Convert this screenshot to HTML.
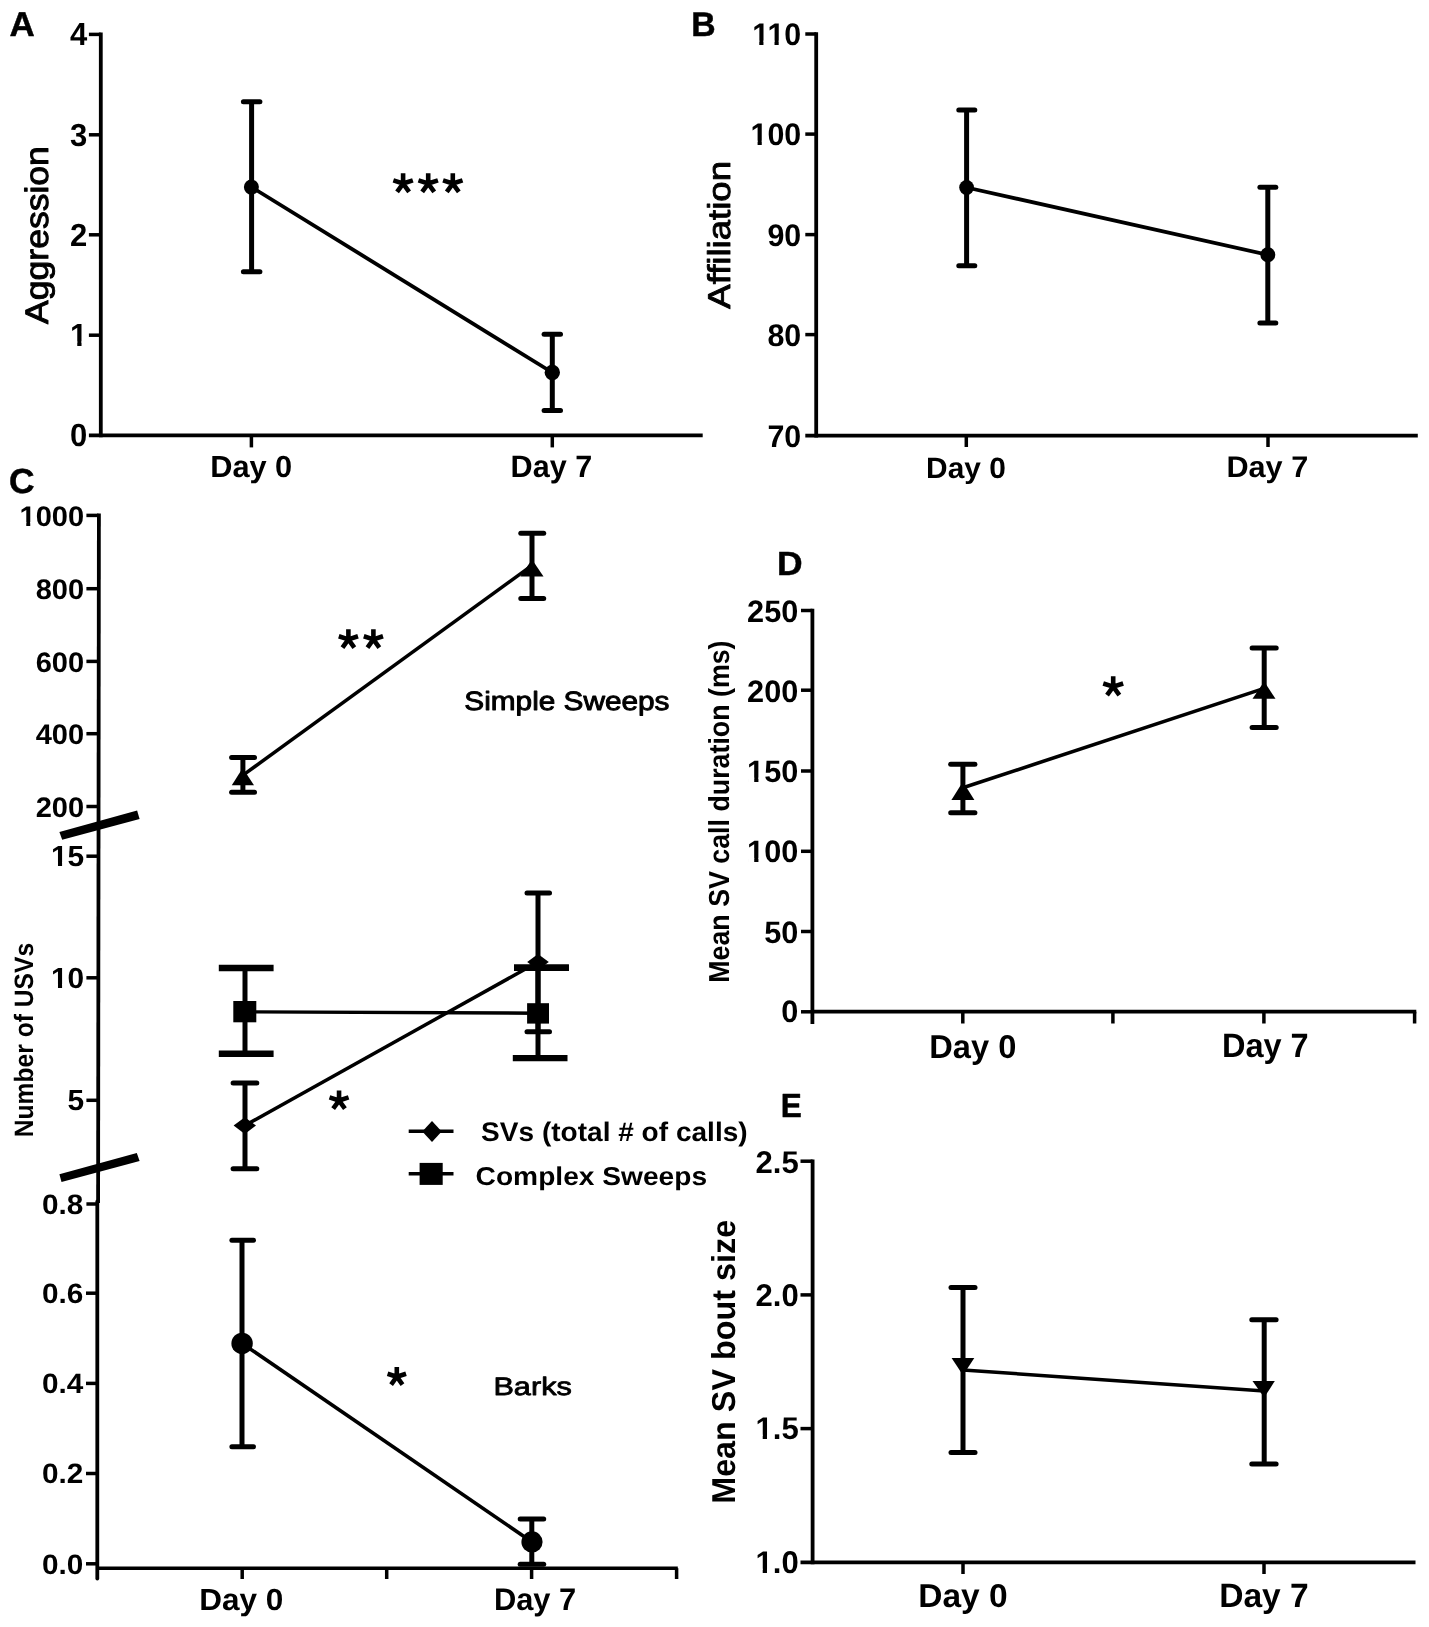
<!DOCTYPE html>
<html><head><meta charset="utf-8"><title>Figure</title>
<style>
html,body{margin:0;padding:0;background:#fff;}
svg{display:block;filter:grayscale(1);}
text{font-family:"Liberation Sans",sans-serif;fill:#000;text-rendering:geometricPrecision;}
</style></head><body>
<svg width="1429" height="1627" viewBox="0 0 1429 1627">
<rect width="1429" height="1627" fill="#fff"/>
<line x1="100.80" y1="32.60" x2="100.80" y2="437.30" stroke="#000" stroke-width="3.8" stroke-linecap="butt"/>
<line x1="88.90" y1="34.40" x2="100.80" y2="34.40" stroke="#000" stroke-width="3.5" stroke-linecap="butt"/>
<line x1="88.90" y1="134.80" x2="100.80" y2="134.80" stroke="#000" stroke-width="3.5" stroke-linecap="butt"/>
<line x1="88.90" y1="234.80" x2="100.80" y2="234.80" stroke="#000" stroke-width="3.5" stroke-linecap="butt"/>
<line x1="88.90" y1="335.20" x2="100.80" y2="335.20" stroke="#000" stroke-width="3.5" stroke-linecap="butt"/>
<line x1="88.90" y1="435.40" x2="702.70" y2="435.40" stroke="#000" stroke-width="3.8" stroke-linecap="butt"/>
<line x1="251.40" y1="435.40" x2="251.40" y2="447.40" stroke="#000" stroke-width="3.5" stroke-linecap="butt"/>
<line x1="552.30" y1="435.40" x2="552.30" y2="447.40" stroke="#000" stroke-width="3.5" stroke-linecap="butt"/>
<line x1="251.50" y1="187.10" x2="552.30" y2="372.50" stroke="#000" stroke-width="3.8" stroke-linecap="butt"/>
<line x1="251.60" y1="101.70" x2="251.60" y2="271.80" stroke="#000" stroke-width="5.0" stroke-linecap="butt"/>
<line x1="243.40" y1="101.70" x2="259.90" y2="101.70" stroke="#000" stroke-width="5.0" stroke-linecap="round"/>
<line x1="243.40" y1="271.80" x2="259.90" y2="271.80" stroke="#000" stroke-width="5.0" stroke-linecap="round"/>
<line x1="552.30" y1="334.30" x2="552.30" y2="410.40" stroke="#000" stroke-width="5.0" stroke-linecap="butt"/>
<line x1="544.10" y1="334.30" x2="560.50" y2="334.30" stroke="#000" stroke-width="5.0" stroke-linecap="round"/>
<line x1="544.10" y1="410.40" x2="560.50" y2="410.40" stroke="#000" stroke-width="5.0" stroke-linecap="round"/>
<circle cx="251.40" cy="187.10" r="7.50" fill="#000"/>
<circle cx="552.30" cy="372.50" r="7.70" fill="#000"/>
<path d="M403.10,183.55L403.10,173.30M403.10,183.55L412.85,180.38M403.10,183.55L393.35,180.38M403.10,183.55L409.13,191.85M403.10,183.55L397.07,191.85" stroke="#000" stroke-width="4.6" stroke-linecap="butt" fill="none"/>
<path d="M428.20,183.55L428.20,173.30M428.20,183.55L437.95,180.38M428.20,183.55L418.45,180.38M428.20,183.55L434.23,191.85M428.20,183.55L422.17,191.85" stroke="#000" stroke-width="4.6" stroke-linecap="butt" fill="none"/>
<path d="M452.80,183.55L452.80,173.30M452.80,183.55L462.55,180.38M452.80,183.55L443.05,180.38M452.80,183.55L458.83,191.85M452.80,183.55L446.77,191.85" stroke="#000" stroke-width="4.6" stroke-linecap="butt" fill="none"/>
<line x1="816.20" y1="32.20" x2="816.20" y2="437.60" stroke="#000" stroke-width="3.8" stroke-linecap="butt"/>
<line x1="805.30" y1="34.00" x2="816.20" y2="34.00" stroke="#000" stroke-width="3.5" stroke-linecap="butt"/>
<line x1="805.30" y1="134.10" x2="816.20" y2="134.10" stroke="#000" stroke-width="3.5" stroke-linecap="butt"/>
<line x1="805.30" y1="234.60" x2="816.20" y2="234.60" stroke="#000" stroke-width="3.5" stroke-linecap="butt"/>
<line x1="805.30" y1="334.60" x2="816.20" y2="334.60" stroke="#000" stroke-width="3.5" stroke-linecap="butt"/>
<line x1="805.30" y1="435.70" x2="1417.80" y2="435.70" stroke="#000" stroke-width="3.8" stroke-linecap="butt"/>
<line x1="966.30" y1="435.70" x2="966.30" y2="447.00" stroke="#000" stroke-width="3.5" stroke-linecap="butt"/>
<line x1="1268.00" y1="435.70" x2="1268.00" y2="447.00" stroke="#000" stroke-width="3.5" stroke-linecap="butt"/>
<line x1="966.60" y1="187.50" x2="1267.80" y2="254.80" stroke="#000" stroke-width="3.8" stroke-linecap="butt"/>
<line x1="966.60" y1="109.90" x2="966.60" y2="265.80" stroke="#000" stroke-width="5.0" stroke-linecap="butt"/>
<line x1="958.80" y1="109.90" x2="974.80" y2="109.90" stroke="#000" stroke-width="5.0" stroke-linecap="round"/>
<line x1="958.80" y1="265.80" x2="974.80" y2="265.80" stroke="#000" stroke-width="5.0" stroke-linecap="round"/>
<line x1="1267.80" y1="187.20" x2="1267.80" y2="323.00" stroke="#000" stroke-width="5.0" stroke-linecap="butt"/>
<line x1="1259.90" y1="187.20" x2="1275.80" y2="187.20" stroke="#000" stroke-width="5.0" stroke-linecap="round"/>
<line x1="1259.90" y1="323.00" x2="1275.80" y2="323.00" stroke="#000" stroke-width="5.0" stroke-linecap="round"/>
<circle cx="966.60" cy="187.50" r="7.40" fill="#000"/>
<circle cx="1267.80" cy="254.80" r="7.50" fill="#000"/>
<line x1="98.90" y1="513.60" x2="98.10" y2="1203.00" stroke="#000" stroke-width="3.8" stroke-linecap="butt"/>
<line x1="97.30" y1="1201.50" x2="97.30" y2="1578.60" stroke="#000" stroke-width="3.8" stroke-linecap="round"/>
<line x1="86.40" y1="515.40" x2="98.50" y2="515.40" stroke="#000" stroke-width="3.5" stroke-linecap="butt"/>
<line x1="86.40" y1="588.70" x2="98.50" y2="588.70" stroke="#000" stroke-width="3.5" stroke-linecap="butt"/>
<line x1="86.40" y1="661.40" x2="98.50" y2="661.40" stroke="#000" stroke-width="3.5" stroke-linecap="butt"/>
<line x1="86.40" y1="733.70" x2="98.50" y2="733.70" stroke="#000" stroke-width="3.5" stroke-linecap="butt"/>
<line x1="86.40" y1="806.50" x2="98.50" y2="806.50" stroke="#000" stroke-width="3.5" stroke-linecap="butt"/>
<line x1="86.40" y1="856.20" x2="98.50" y2="856.20" stroke="#000" stroke-width="3.5" stroke-linecap="butt"/>
<line x1="86.40" y1="977.80" x2="98.50" y2="977.80" stroke="#000" stroke-width="3.5" stroke-linecap="butt"/>
<line x1="86.40" y1="1100.30" x2="98.50" y2="1100.30" stroke="#000" stroke-width="3.5" stroke-linecap="butt"/>
<line x1="86.40" y1="1204.00" x2="98.50" y2="1204.00" stroke="#000" stroke-width="3.5" stroke-linecap="butt"/>
<line x1="86.00" y1="1293.20" x2="97.30" y2="1293.20" stroke="#000" stroke-width="3.5" stroke-linecap="butt"/>
<line x1="86.00" y1="1383.40" x2="97.30" y2="1383.40" stroke="#000" stroke-width="3.5" stroke-linecap="butt"/>
<line x1="86.00" y1="1473.50" x2="97.30" y2="1473.50" stroke="#000" stroke-width="3.5" stroke-linecap="butt"/>
<line x1="86.00" y1="1563.80" x2="97.30" y2="1563.80" stroke="#000" stroke-width="3.5" stroke-linecap="butt"/>
<line x1="97.30" y1="1568.20" x2="677.80" y2="1568.20" stroke="#000" stroke-width="3.5" stroke-linecap="butt"/>
<line x1="242.20" y1="1568.20" x2="242.20" y2="1579.00" stroke="#000" stroke-width="3.5" stroke-linecap="butt"/>
<line x1="386.70" y1="1568.20" x2="386.70" y2="1579.00" stroke="#000" stroke-width="3.5" stroke-linecap="butt"/>
<line x1="531.60" y1="1568.20" x2="531.60" y2="1579.00" stroke="#000" stroke-width="3.5" stroke-linecap="butt"/>
<line x1="676.60" y1="1568.20" x2="676.60" y2="1579.00" stroke="#000" stroke-width="3.5" stroke-linecap="butt"/>
<polygon points="59.40,832.10 137.10,810.40 139.60,819.10 62.20,839.80" fill="#000"/>
<polygon points="59.40,1174.30 136.80,1152.90 139.60,1161.00 61.50,1182.00" fill="#000"/>
<line x1="243.00" y1="775.20" x2="532.00" y2="565.40" stroke="#000" stroke-width="3.5" stroke-linecap="butt"/>
<line x1="242.90" y1="757.60" x2="242.90" y2="792.20" stroke="#000" stroke-width="5.0" stroke-linecap="butt"/>
<line x1="231.60" y1="757.60" x2="254.50" y2="757.60" stroke="#000" stroke-width="5.0" stroke-linecap="round"/>
<line x1="231.60" y1="792.20" x2="254.50" y2="792.20" stroke="#000" stroke-width="5.0" stroke-linecap="round"/>
<line x1="532.00" y1="533.30" x2="532.00" y2="598.60" stroke="#000" stroke-width="5.0" stroke-linecap="butt"/>
<line x1="520.80" y1="533.30" x2="543.70" y2="533.30" stroke="#000" stroke-width="5.0" stroke-linecap="round"/>
<line x1="520.80" y1="598.60" x2="543.70" y2="598.60" stroke="#000" stroke-width="5.0" stroke-linecap="round"/>
<polygon points="242.70,768.00 254.00,785.20 231.80,785.20" fill="#000"/>
<polygon points="532.00,559.50 543.50,576.50 520.30,576.50" fill="#000"/>
<line x1="245.00" y1="1011.80" x2="538.00" y2="1013.20" stroke="#000" stroke-width="3.4" stroke-linecap="butt"/>
<line x1="245.00" y1="968.00" x2="245.00" y2="1053.80" stroke="#000" stroke-width="5.0" stroke-linecap="butt"/>
<line x1="218.80" y1="968.00" x2="273.60" y2="968.00" stroke="#000" stroke-width="6.4" stroke-linecap="butt"/>
<line x1="218.80" y1="1053.80" x2="273.60" y2="1053.80" stroke="#000" stroke-width="6.4" stroke-linecap="butt"/>
<line x1="538.00" y1="967.80" x2="538.00" y2="1058.10" stroke="#000" stroke-width="5.0" stroke-linecap="butt"/>
<line x1="514.00" y1="967.80" x2="568.90" y2="967.80" stroke="#000" stroke-width="6.4" stroke-linecap="butt"/>
<line x1="512.80" y1="1058.10" x2="567.50" y2="1058.10" stroke="#000" stroke-width="6.4" stroke-linecap="butt"/>
<rect x="233.30" y="1001.00" width="23.00" height="21.30" fill="#000"/>
<rect x="527.10" y="1003.20" width="21.90" height="20.40" fill="#000"/>
<line x1="244.80" y1="1125.60" x2="538.00" y2="962.00" stroke="#000" stroke-width="3.5" stroke-linecap="butt"/>
<line x1="245.00" y1="1082.90" x2="245.00" y2="1168.70" stroke="#000" stroke-width="5.0" stroke-linecap="butt"/>
<line x1="233.10" y1="1082.90" x2="256.80" y2="1082.90" stroke="#000" stroke-width="5.0" stroke-linecap="round"/>
<line x1="233.10" y1="1168.70" x2="256.80" y2="1168.70" stroke="#000" stroke-width="5.0" stroke-linecap="round"/>
<line x1="538.00" y1="893.10" x2="538.00" y2="1031.80" stroke="#000" stroke-width="5.0" stroke-linecap="butt"/>
<line x1="527.00" y1="893.10" x2="549.50" y2="893.10" stroke="#000" stroke-width="5.0" stroke-linecap="round"/>
<line x1="527.00" y1="1031.80" x2="549.50" y2="1031.80" stroke="#000" stroke-width="5.0" stroke-linecap="round"/>
<polygon points="244.80,1117.30 256.00,1125.60 244.80,1133.90 233.60,1125.60" fill="#000"/>
<polygon points="538.00,954.00 548.80,962.00 538.00,970.00 527.20,962.00" fill="#000"/>
<line x1="514.00" y1="967.80" x2="568.90" y2="967.80" stroke="#000" stroke-width="6.4" stroke-linecap="butt"/>
<line x1="242.10" y1="1343.40" x2="532.00" y2="1541.90" stroke="#000" stroke-width="3.6" stroke-linecap="butt"/>
<line x1="242.00" y1="1240.20" x2="242.00" y2="1446.70" stroke="#000" stroke-width="5.0" stroke-linecap="butt"/>
<line x1="231.90" y1="1240.20" x2="253.50" y2="1240.20" stroke="#000" stroke-width="5.0" stroke-linecap="round"/>
<line x1="231.90" y1="1446.70" x2="253.50" y2="1446.70" stroke="#000" stroke-width="5.0" stroke-linecap="round"/>
<line x1="531.80" y1="1519.10" x2="531.80" y2="1564.20" stroke="#000" stroke-width="5.0" stroke-linecap="butt"/>
<line x1="520.20" y1="1519.10" x2="543.70" y2="1519.10" stroke="#000" stroke-width="5.0" stroke-linecap="round"/>
<line x1="520.20" y1="1564.20" x2="543.70" y2="1564.20" stroke="#000" stroke-width="5.0" stroke-linecap="round"/>
<circle cx="242.10" cy="1343.40" r="10.70" fill="#000"/>
<circle cx="532.00" cy="1541.90" r="10.60" fill="#000"/>
<line x1="408.70" y1="1131.30" x2="453.50" y2="1131.30" stroke="#000" stroke-width="3.5" stroke-linecap="butt"/>
<polygon points="432.00,1121.10 441.70,1131.50 432.00,1141.90 422.30,1131.50" fill="#000"/>
<line x1="408.70" y1="1173.70" x2="453.50" y2="1173.70" stroke="#000" stroke-width="3.5" stroke-linecap="butt"/>
<rect x="419.60" y="1162.90" width="23.10" height="22.00" fill="#000"/>
<path d="M348.40,639.39L348.40,629.30M348.40,639.39L357.99,636.27M348.40,639.39L338.81,636.27M348.40,639.39L354.33,647.55M348.40,639.39L342.47,647.55" stroke="#000" stroke-width="4.6" stroke-linecap="butt" fill="none"/>
<path d="M373.40,639.39L373.40,629.30M373.40,639.39L382.99,636.27M373.40,639.39L363.81,636.27M373.40,639.39L379.33,647.55M373.40,639.39L367.47,647.55" stroke="#000" stroke-width="4.6" stroke-linecap="butt" fill="none"/>
<path d="M339.05,1100.53L339.05,1090.50M339.05,1100.53L348.59,1097.43M339.05,1100.53L329.51,1097.43M339.05,1100.53L344.95,1108.65M339.05,1100.53L333.15,1108.65" stroke="#000" stroke-width="4.6" stroke-linecap="butt" fill="none"/>
<path d="M396.80,1376.70L396.80,1367.00M396.80,1376.70L406.03,1373.70M396.80,1376.70L387.57,1373.70M396.80,1376.70L402.50,1384.55M396.80,1376.70L391.10,1384.55" stroke="#000" stroke-width="4.6" stroke-linecap="butt" fill="none"/>
<line x1="812.40" y1="608.70" x2="812.40" y2="1023.90" stroke="#000" stroke-width="3.8" stroke-linecap="butt"/>
<line x1="801.00" y1="610.50" x2="812.40" y2="610.50" stroke="#000" stroke-width="3.5" stroke-linecap="butt"/>
<line x1="801.00" y1="690.20" x2="812.40" y2="690.20" stroke="#000" stroke-width="3.5" stroke-linecap="butt"/>
<line x1="801.00" y1="771.00" x2="812.40" y2="771.00" stroke="#000" stroke-width="3.5" stroke-linecap="butt"/>
<line x1="801.00" y1="851.30" x2="812.40" y2="851.30" stroke="#000" stroke-width="3.5" stroke-linecap="butt"/>
<line x1="801.00" y1="931.50" x2="812.40" y2="931.50" stroke="#000" stroke-width="3.5" stroke-linecap="butt"/>
<line x1="801.00" y1="1011.80" x2="812.40" y2="1011.80" stroke="#000" stroke-width="3.5" stroke-linecap="butt"/>
<line x1="812.40" y1="1011.70" x2="1416.30" y2="1011.70" stroke="#000" stroke-width="3.8" stroke-linecap="butt"/>
<line x1="962.80" y1="1011.70" x2="962.80" y2="1023.50" stroke="#000" stroke-width="3.5" stroke-linecap="butt"/>
<line x1="1112.90" y1="1011.70" x2="1112.90" y2="1023.50" stroke="#000" stroke-width="3.5" stroke-linecap="butt"/>
<line x1="1263.90" y1="1011.70" x2="1263.90" y2="1023.50" stroke="#000" stroke-width="3.5" stroke-linecap="butt"/>
<line x1="1414.60" y1="1011.70" x2="1414.60" y2="1023.50" stroke="#000" stroke-width="3.5" stroke-linecap="butt"/>
<line x1="962.90" y1="787.80" x2="1264.20" y2="688.40" stroke="#000" stroke-width="3.6" stroke-linecap="butt"/>
<line x1="962.90" y1="764.30" x2="962.90" y2="812.70" stroke="#000" stroke-width="5.0" stroke-linecap="butt"/>
<line x1="950.70" y1="764.30" x2="974.90" y2="764.30" stroke="#000" stroke-width="5.0" stroke-linecap="round"/>
<line x1="950.70" y1="812.70" x2="974.90" y2="812.70" stroke="#000" stroke-width="5.0" stroke-linecap="round"/>
<line x1="1264.20" y1="647.90" x2="1264.20" y2="727.40" stroke="#000" stroke-width="5.0" stroke-linecap="butt"/>
<line x1="1252.10" y1="647.90" x2="1276.20" y2="647.90" stroke="#000" stroke-width="5.0" stroke-linecap="round"/>
<line x1="1252.10" y1="727.40" x2="1276.20" y2="727.40" stroke="#000" stroke-width="5.0" stroke-linecap="round"/>
<polygon points="962.90,781.80 974.40,799.90 951.40,799.90" fill="#000"/>
<polygon points="1264.20,681.50 1275.50,698.80 1252.50,698.80" fill="#000"/>
<path d="M1113.20,686.67L1113.20,676.20M1113.20,686.67L1123.16,683.44M1113.20,686.67L1103.24,683.44M1113.20,686.67L1119.36,695.15M1113.20,686.67L1107.04,695.15" stroke="#000" stroke-width="4.6" stroke-linecap="butt" fill="none"/>
<line x1="812.60" y1="1159.40" x2="812.60" y2="1564.20" stroke="#000" stroke-width="3.8" stroke-linecap="butt"/>
<line x1="800.50" y1="1161.20" x2="812.60" y2="1161.20" stroke="#000" stroke-width="3.5" stroke-linecap="butt"/>
<line x1="800.50" y1="1294.90" x2="812.60" y2="1294.90" stroke="#000" stroke-width="3.5" stroke-linecap="butt"/>
<line x1="800.50" y1="1428.60" x2="812.60" y2="1428.60" stroke="#000" stroke-width="3.5" stroke-linecap="butt"/>
<line x1="800.50" y1="1562.40" x2="1415.50" y2="1562.40" stroke="#000" stroke-width="3.8" stroke-linecap="butt"/>
<line x1="963.00" y1="1562.40" x2="963.00" y2="1574.00" stroke="#000" stroke-width="3.5" stroke-linecap="butt"/>
<line x1="1264.00" y1="1562.40" x2="1264.00" y2="1574.00" stroke="#000" stroke-width="3.5" stroke-linecap="butt"/>
<line x1="963.00" y1="1370.00" x2="1264.20" y2="1390.90" stroke="#000" stroke-width="3.5" stroke-linecap="butt"/>
<line x1="963.00" y1="1287.50" x2="963.00" y2="1452.60" stroke="#000" stroke-width="5.0" stroke-linecap="butt"/>
<line x1="951.00" y1="1287.50" x2="975.00" y2="1287.50" stroke="#000" stroke-width="5.0" stroke-linecap="round"/>
<line x1="951.00" y1="1452.60" x2="975.00" y2="1452.60" stroke="#000" stroke-width="5.0" stroke-linecap="round"/>
<line x1="1264.20" y1="1319.70" x2="1264.20" y2="1463.90" stroke="#000" stroke-width="5.0" stroke-linecap="butt"/>
<line x1="1251.80" y1="1319.70" x2="1276.10" y2="1319.70" stroke="#000" stroke-width="5.0" stroke-linecap="round"/>
<line x1="1251.80" y1="1463.90" x2="1276.10" y2="1463.90" stroke="#000" stroke-width="5.0" stroke-linecap="round"/>
<polygon points="951.60,1358.10 974.30,1358.10 963.00,1375.30" fill="#000"/>
<polygon points="1252.50,1381.10 1274.80,1381.10 1264.20,1397.50" fill="#000"/>
<text transform="matrix(0.34925,0,0,0.34453,9.477,36.250)" font-size="100" font-weight="bold" stroke="#000" stroke-width="1.441" stroke-linejoin="round">A</text>
<text transform="matrix(0,-0.35517,0.32473,0,48.443,323.878)" font-size="100" font-weight="normal" stroke="#000" stroke-width="2.945" stroke-linejoin="round">Aggression</text>
<text transform="matrix(0.30721,0,0,0.30497,210.203,477.148)" font-size="100" font-weight="bold">Day 0</text>
<text transform="matrix(0.30547,0,0,0.31011,510.614,477.043)" font-size="100" font-weight="bold">Day 7</text>
<text transform="matrix(0.33770,0,0,0.34161,691.255,36.250)" font-size="100" font-weight="bold" stroke="#000" stroke-width="1.472" stroke-linejoin="round">B</text>
<text transform="matrix(0,-0.36549,0.31565,0,730.184,308.683)" font-size="100" font-weight="normal" stroke="#000" stroke-width="2.944" stroke-linejoin="round">Affiliation</text>
<text transform="matrix(0.29903,0,0,0.29392,926.056,477.575)" font-size="100" font-weight="bold">Day 0</text>
<text transform="matrix(0.30664,0,0,0.29888,1226.407,477.473)" font-size="100" font-weight="bold">Day 7</text>
<text transform="matrix(0.35420,0,0,0.34789,8.933,493.402)" font-size="100" font-weight="bold" stroke="#000" stroke-width="1.424" stroke-linejoin="round">C</text>
<text transform="matrix(0.28053,0,0,0.26882,481.058,1141.089)" font-size="100" font-weight="bold">SVs (total # of calls)</text>
<text transform="matrix(0.28152,0,0,0.25806,475.574,1185.410)" font-size="100" font-weight="bold">Complex Sweeps</text>
<text transform="matrix(0.29750,0,0,0.26344,464.361,709.999)" font-size="100" font-weight="normal" stroke="#000" stroke-width="3.572" stroke-linejoin="round">Simple Sweeps</text>
<text transform="matrix(0.30697,0,0,0.25306,493.394,1395.097)" font-size="100" font-weight="normal" stroke="#000" stroke-width="3.229" stroke-linejoin="round">Barks</text>
<text transform="matrix(0,-0.24650,0.26531,0,32.935,1137.302)" font-size="100" font-weight="bold">Number of USVs</text>
<text transform="matrix(0.31501,0,0,0.30608,199.152,1609.925)" font-size="100" font-weight="bold">Day 0</text>
<text transform="matrix(0.30820,0,0,0.31124,493.897,1609.820)" font-size="100" font-weight="bold">Day 7</text>
<text transform="matrix(0.35447,0,0,0.33577,777.046,575.250)" font-size="100" font-weight="bold" stroke="#000" stroke-width="1.449" stroke-linejoin="round">D</text>
<text transform="matrix(0,-0.26782,0.28925,0,728.970,982.741)" font-size="100" font-weight="bold">Mean SV call duration (ms)</text>
<text transform="matrix(0.32632,0,0,0.33149,929.279,1057.504)" font-size="100" font-weight="bold">Day 0</text>
<text transform="matrix(0.32539,0,0,0.33708,1221.885,1057.390)" font-size="100" font-weight="bold">Day 7</text>
<text transform="matrix(0.31504,0,0,0.33285,780.702,1116.950)" font-size="100" font-weight="bold" stroke="#000" stroke-width="1.544" stroke-linejoin="round">E</text>
<text transform="matrix(0,-0.32339,0.33061,0,735.269,1503.802)" font-size="100" font-weight="bold">Mean SV bout size</text>
<text transform="matrix(0.33450,0,0,0.33149,918.226,1607.104)" font-size="100" font-weight="bold">Day 0</text>
<text transform="matrix(0.33555,0,0,0.33708,1219.219,1606.990)" font-size="100" font-weight="bold">Day 7</text>
<text transform="matrix(0.97,0,0,1,70.01,45.26)" font-size="32" font-weight="bold">4</text>
<text transform="matrix(0.97,0,0,1,70.01,145.54)" font-size="32" font-weight="bold">3</text>
<text transform="matrix(0.97,0,0,1,70.01,246.30)" font-size="32" font-weight="bold">2</text>
<text transform="matrix(0.97,0,0,1,70.01,345.86)" font-size="32" font-weight="bold">1</text>
<text transform="matrix(0.97,0,0,1,70.01,446.44)" font-size="32" font-weight="bold">0</text>
<text transform="matrix(0.975,0,0,1,752.18,45.06)" font-size="31.2" font-weight="bold">110</text>
<text transform="matrix(0.975,0,0,1,750.50,145.16)" font-size="31.2" font-weight="bold">100</text>
<text transform="matrix(0.975,0,0,1,767.41,245.76)" font-size="31.2" font-weight="bold">90</text>
<text transform="matrix(0.975,0,0,1,767.41,345.76)" font-size="31.2" font-weight="bold">80</text>
<text transform="matrix(0.975,0,0,1,767.41,446.56)" font-size="31.2" font-weight="bold">70</text>
<text transform="matrix(1.03,0,0,1,19.48,526.23)" font-size="28.2" font-weight="bold">1000</text>
<text transform="matrix(1.03,0,0,1,35.63,598.83)" font-size="28.2" font-weight="bold">800</text>
<text transform="matrix(1.03,0,0,1,35.63,671.63)" font-size="28.2" font-weight="bold">600</text>
<text transform="matrix(1.03,0,0,1,35.63,744.13)" font-size="28.2" font-weight="bold">400</text>
<text transform="matrix(1.03,0,0,1,35.63,816.83)" font-size="28.2" font-weight="bold">200</text>
<text transform="matrix(1.03,0,0,1,51.00,866.39)" font-size="29.0" font-weight="bold">15</text>
<text transform="matrix(1.03,0,0,1,51.00,988.21)" font-size="29.0" font-weight="bold">10</text>
<text transform="matrix(1.03,0,0,1,67.62,1110.49)" font-size="29.0" font-weight="bold">5</text>
<text transform="matrix(1.06,0,0,1,42.02,1213.69)" font-size="28.1" font-weight="bold">0.8</text>
<text transform="matrix(1.06,0,0,1,42.02,1303.09)" font-size="28.1" font-weight="bold">0.6</text>
<text transform="matrix(1.06,0,0,1,42.02,1393.29)" font-size="28.1" font-weight="bold">0.4</text>
<text transform="matrix(1.06,0,0,1,42.02,1483.39)" font-size="28.1" font-weight="bold">0.2</text>
<text transform="matrix(1.06,0,0,1,42.02,1573.69)" font-size="28.1" font-weight="bold">0.0</text>
<text transform="matrix(0.99,0,0,1,747.06,622.20)" font-size="31.0" font-weight="bold">250</text>
<text transform="matrix(0.99,0,0,1,747.06,701.50)" font-size="31.0" font-weight="bold">200</text>
<text transform="matrix(0.99,0,0,1,747.06,782.10)" font-size="31.0" font-weight="bold">150</text>
<text transform="matrix(0.99,0,0,1,747.06,862.40)" font-size="31.0" font-weight="bold">100</text>
<text transform="matrix(0.99,0,0,1,764.13,942.70)" font-size="31.0" font-weight="bold">50</text>
<text transform="matrix(0.99,0,0,1,781.19,1022.40)" font-size="31.0" font-weight="bold">0</text>
<text transform="matrix(0.99,0,0,1,755.47,1172.73)" font-size="31.4" font-weight="bold">2.5</text>
<text transform="matrix(0.99,0,0,1,755.47,1305.83)" font-size="31.4" font-weight="bold">2.0</text>
<text transform="matrix(0.99,0,0,1,755.47,1439.20)" font-size="31.4" font-weight="bold">1.5</text>
<text transform="matrix(0.99,0,0,1,755.47,1573.23)" font-size="31.4" font-weight="bold">1.0</text>
<rect x="71.17" y="341.29" width="6.09" height="5.57" fill="#fff"/>
<rect x="81.52" y="341.29" width="5.70" height="5.57" fill="#fff"/>
<rect x="753.29" y="40.58" width="5.98" height="5.48" fill="#fff"/>
<rect x="763.45" y="40.58" width="5.60" height="5.48" fill="#fff"/>
<rect x="768.53" y="40.58" width="5.98" height="5.48" fill="#fff"/>
<rect x="778.69" y="40.58" width="5.60" height="5.48" fill="#fff"/>
<rect x="751.61" y="140.68" width="5.98" height="5.48" fill="#fff"/>
<rect x="761.77" y="140.68" width="5.60" height="5.48" fill="#fff"/>
<rect x="20.51" y="522.05" width="5.75" height="5.18" fill="#fff"/>
<rect x="30.24" y="522.05" width="5.38" height="5.18" fill="#fff"/>
<rect x="52.09" y="862.13" width="5.89" height="5.26" fill="#fff"/>
<rect x="62.07" y="862.13" width="5.51" height="5.26" fill="#fff"/>
<rect x="52.09" y="983.95" width="5.89" height="5.26" fill="#fff"/>
<rect x="62.07" y="983.95" width="5.51" height="5.26" fill="#fff"/>
<rect x="748.19" y="777.63" width="6.03" height="5.46" fill="#fff"/>
<rect x="758.43" y="777.63" width="5.64" height="5.46" fill="#fff"/>
<rect x="748.19" y="857.93" width="6.03" height="5.46" fill="#fff"/>
<rect x="758.43" y="857.93" width="5.64" height="5.46" fill="#fff"/>
<rect x="756.62" y="1434.69" width="6.10" height="5.50" fill="#fff"/>
<rect x="766.99" y="1434.69" width="5.70" height="5.50" fill="#fff"/>
<rect x="756.62" y="1568.73" width="6.10" height="5.50" fill="#fff"/>
<rect x="766.99" y="1568.73" width="5.70" height="5.50" fill="#fff"/>
</svg>
</body></html>
